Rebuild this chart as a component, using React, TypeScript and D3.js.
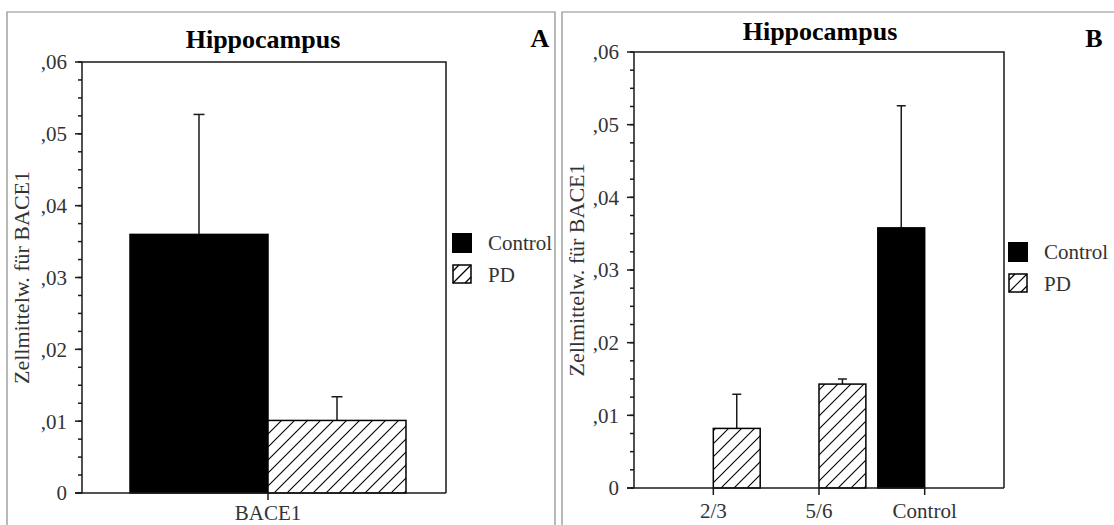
import React from "react";
import * as d3 from "d3";

const seriesNames = ["Control", "PD"];

const catsA = ["BACE1"];
const controlA = [0.036];
const controlErrA = [0.0527];
const pdA = [0.0101];
const pdErrA = [0.0134];

const catsB = ["2/3", "5/6", "Control"];
const controlB: (number | null)[] = [null, null, 0.0358];
const controlErrB: (number | null)[] = [null, null, 0.0526];
const pdB: (number | null)[] = [0.0082, 0.0143, null];
const pdErrB: (number | null)[] = [0.0129, 0.015, null];

const yTicks = [0, 0.01, 0.02, 0.03, 0.04, 0.05, 0.06];
const yTickLabels = ["0", ",01", ",02", ",03", ",04", ",05", ",06"];
const yMinor = d3.range(0, 0.06001, 0.0025);

const title = "Hippocampus";
const yLabel = "Zellmittelw. für BACE1";

const FONT = "Liberation Serif, serif";
const LINE = "#1a1a1a";
const TXT = "#333";

type PanelProps = {
  cats: string[];
  control: (number | null)[];
  controlErr: (number | null)[];
  pd: (number | null)[];
  pdErr: (number | null)[];
  frame: { l: number; r: number; t: number; b: number };
  xRange: [number, number];
  padInner: number;
  padOuter: number;
  capW: number;
  titleX: number;
  titleY: number;
  letter: string;
  letterX: number;
  letterY: number;
  ylabelX: number;
  xlabelDy: number;
  legendX: number;
  legendY: number;
  border: { l: number; t: number; r: number };
  hatchId: string;
};

function Panel(p: PanelProps) {
  const { frame } = p;
  const y = d3.scaleLinear().domain([0, 0.06]).range([frame.b, frame.t]);
  const x0 = d3
    .scaleBand<string>()
    .domain(p.cats)
    .range(p.xRange)
    .paddingInner(p.padInner)
    .paddingOuter(p.padOuter);
  const x1 = d3.scaleBand<string>().domain(seriesNames).range([0, x0.bandwidth()]);

  const bars: any[] = [];
  p.cats.forEach((c, i) => {
    const vals = [
      { s: "Control", v: p.control[i], e: p.controlErr[i] },
      { s: "PD", v: p.pd[i], e: p.pdErr[i] },
    ];
    vals.forEach((d) => {
      if (d.v == null) return;
      const bx = (x0(c) as number) + (x1(d.s) as number);
      const bw = x1.bandwidth();
      const cx = bx + bw / 2;
      bars.push(
        <g key={c + d.s}>
          {d.e != null && (
            <g stroke={LINE} strokeWidth={1.5}>
              <line x1={cx} x2={cx} y1={y(d.v)} y2={y(d.e)} />
              <line x1={cx - p.capW / 2} x2={cx + p.capW / 2} y1={y(d.e)} y2={y(d.e)} />
            </g>
          )}
          <rect
            x={bx}
            y={y(d.v)}
            width={bw}
            height={y(0) - y(d.v)}
            fill={d.s === "Control" ? "#000" : `url(#${p.hatchId})`}
            stroke="#000"
            strokeWidth={1.5}
          />
        </g>
      );
    });
  });

  const majorLen = 7;
  const minorLen = 4;
  const lx = p.legendX;
  const ly = p.legendY;

  return (
    <g>
      <path
        d={`M${p.border.l},525 V${p.border.t} H${p.border.r} ${p.border.r < 1114 ? `V525` : ""}`}
        fill="none"
        stroke="#8a8a8a"
        strokeWidth={1.2}
      />
      <text x={p.titleX} y={p.titleY} textAnchor="middle" fontFamily={FONT} fontWeight="bold" fontSize={26} fill="#000">
        {title}
      </text>
      <text x={p.letterX} y={p.letterY} textAnchor="middle" fontFamily={FONT} fontWeight="bold" fontSize={26} fill="#000">
        {p.letter}
      </text>
      {bars}
      <path
        d={`M${frame.l},${frame.b} V${frame.t} H${frame.r} V${frame.b}`}
        fill="none"
        stroke={LINE}
        strokeWidth={1.5}
      />
      <line x1={frame.l - majorLen} x2={frame.r} y1={frame.b} y2={frame.b} stroke={LINE} strokeWidth={1.5} />
      {yMinor.map((t, i) => (
        <line key={"m" + i} x1={frame.l - minorLen} x2={frame.l} y1={y(t)} y2={y(t)} stroke={LINE} strokeWidth={1.5} />
      ))}
      {yTicks.map((t, i) => (
        <g key={"t" + i}>
          <line x1={frame.l - majorLen} x2={frame.l} y1={y(t)} y2={y(t)} stroke={LINE} strokeWidth={1.5} />
          <text
            x={frame.l - majorLen - 8}
            y={y(t)}
            dy="0.35em"
            textAnchor="end"
            fontFamily={FONT}
            fontSize={21}
            fill={TXT}
          >
            {yTickLabels[i]}
          </text>
        </g>
      ))}
      {p.cats.map((c) => {
        const cx = (x0(c) as number) + x0.bandwidth() / 2;
        return (
          <g key={"x" + c}>
            <line x1={cx} x2={cx} y1={frame.b} y2={frame.b + 7} stroke={LINE} strokeWidth={1.5} />
            <text x={cx} y={frame.b + p.xlabelDy} textAnchor="middle" fontFamily={FONT} fontSize={21} fill={TXT}>
              {c}
            </text>
          </g>
        );
      })}
      <text
        transform={`translate(${p.ylabelX},${(frame.t + frame.b) / 2}) rotate(-90)`}
        textAnchor="middle"
        dy="0.35em"
        fontFamily={FONT}
        fontSize={22}
        fill={TXT}
      >
        {yLabel}
      </text>
      <rect x={lx} y={ly} width={20} height={20} fill="#000" />
      <text x={lx + 36} y={ly + 17} fontFamily={FONT} fontSize={21} fill={TXT}>
        {seriesNames[0]}
      </text>
      <rect x={lx + 1} y={ly + 32} width={18} height={18} fill="#fff" stroke="#000" strokeWidth={1.5} />
      <line x1={lx + 1} y1={ly + 50} x2={lx + 19} y2={ly + 32} stroke="#000" strokeWidth={1.2} />
      <line x1={lx + 1} y1={ly + 38} x2={lx + 7} y2={ly + 32} stroke="#000" strokeWidth={1.2} />
      <line x1={lx + 13} y1={ly + 50} x2={lx + 19} y2={ly + 44} stroke="#000" strokeWidth={1.2} />
      <text x={lx + 36} y={ly + 49} fontFamily={FONT} fontSize={21} fill={TXT}>
        {seriesNames[1]}
      </text>
    </g>
  );
}

export default function App() {
  return (
    <svg
      width={1114}
      height={525}
      style={{ position: "absolute", left: 0, top: 0, background: "#fff" }}
    >
      <defs>
        {["hatchA", "hatchB"].map((id) => (
          <pattern key={id} id={id} patternUnits="userSpaceOnUse" width={13} height={13}>
            <rect width={13} height={13} fill="#fff" />
            <path d="M-1,14 L14,-1 M-3.5,3.5 L3.5,-3.5 M9.5,16.5 L16.5,9.5" stroke="#000" strokeWidth={1.1} />
          </pattern>
        ))}
      </defs>
      <Panel
        cats={catsA}
        control={controlA}
        controlErr={controlErrA}
        pd={pdA}
        pdErr={pdErrA}
        frame={{ l: 82, r: 446, t: 62, b: 493 }}
        xRange={[90, 446]}
        padInner={0}
        padOuter={0.145}
        capW={11}
        titleX={263}
        titleY={48}
        letter="A"
        letterX={540}
        letterY={47}
        ylabelX={21}
        xlabelDy={27}
        legendX={452}
        legendY={233}
        border={{ l: 7, t: 12, r: 555 }}
        hatchId="hatchA"
      />
      <Panel
        cats={catsB}
        control={controlB}
        controlErr={controlErrB}
        pd={pdB}
        pdErr={pdErrB}
        frame={{ l: 634, r: 1004, t: 52, b: 488 }}
        xRange={[634, 1004]}
        padInner={0.113}
        padOuter={0.307}
        capW={9}
        titleX={820}
        titleY={40}
        letter="B"
        letterX={1094}
        letterY={47}
        ylabelX={576}
        xlabelDy={30}
        legendX={1008}
        legendY={242}
        border={{ l: 562, t: 12, r: 1200 }}
        hatchId="hatchB"
      />
    </svg>
  );
}
